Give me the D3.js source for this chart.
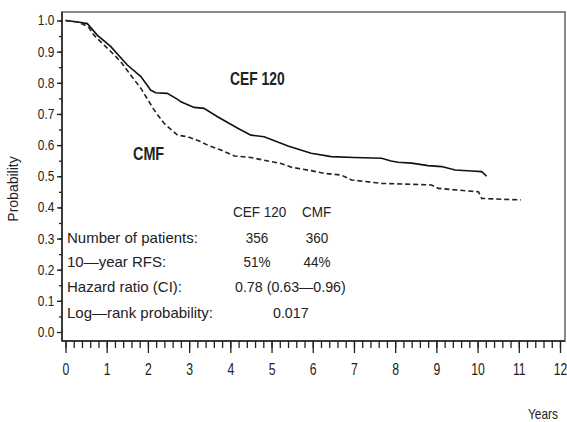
<!DOCTYPE html>
<html>
<head>
<meta charset="utf-8">
<script src="https://cdn.jsdelivr.net/npm/d3@7"></script>
<style>
  body { margin: 0; background: #fff; }
  text { fill: #222; }
</style>
</head>
<body>
<div id="chart"></div>
<script>
// Kaplan-Meier estimates
const cefYears = [0, 0.3, 0.53, 0.77, 1.1, 1.5, 1.83, 2.07, 2.19, 2.47, 2.72, 2.8, 3.12, 3.36, 3.69, 4.18, 4.5, 4.82, 5.4, 5.96, 6.45, 7.0, 7.67, 7.9, 8.07, 8.4, 8.8, 9.13, 9.45, 9.86, 10.1, 10.22];
const cefProb = [1.0, 0.995, 0.99, 0.953, 0.916, 0.857, 0.82, 0.776, 0.768, 0.766, 0.747, 0.739, 0.721, 0.718, 0.691, 0.654, 0.632, 0.627, 0.597, 0.574, 0.563, 0.56, 0.558, 0.549, 0.545, 0.542, 0.534, 0.531, 0.52, 0.517, 0.515, 0.50];

const cmfYears = [0, 0.3, 0.55, 0.69, 0.89, 1.14, 1.34, 1.58, 1.83, 2.03, 2.15, 2.39, 2.72, 2.96, 3.28, 3.45, 3.77, 4.1, 4.5, 4.91, 5.23, 5.48, 5.96, 6.29, 6.69, 6.94, 7.67, 8.88, 9.05, 10.02, 10.1, 10.42, 11.05];
const cmfProb = [1.0, 0.995, 0.98, 0.953, 0.927, 0.895, 0.868, 0.825, 0.782, 0.739, 0.713, 0.670, 0.632, 0.627, 0.611, 0.60, 0.584, 0.565, 0.56, 0.549, 0.541, 0.529, 0.518, 0.509, 0.504, 0.488, 0.477, 0.472, 0.461, 0.45, 0.429, 0.427, 0.424];

const xTicks = d3.range(0, 13);
const yTicks = d3.range(0, 11).map(i => i / 10);

const tableHeader = ["CEF 120", "CMF"];
const tableRows = [
  { label: "Number of patients:", cef: "356", cmf: "360" },
  { label: "10\u2014year RFS:", cef: "51%", cmf: "44%" },
  { label: "Hazard ratio (CI):", both: "0.78 (0.63\u20140.96)" },
  { label: "Log\u2014rank probability:", both: "0.017" }
];

const W = 567, H = 422;
const svg = d3.select("#chart")
  .append("svg")
  .attr("width", W)
  .attr("height", H);

const x = d3.scaleLinear().domain([0, 12]).range([65.5, 560]);
const y = d3.scaleLinear().domain([0, 1]).range([332, 20.5]);

const frame = { left: 62, right: 565, top: 12, bottom: 341 };
const font = "Arial, 'Liberation Sans', sans-serif";

// text squeezed horizontally, like the narrow font of the original
function narrowText(px, py, str, size, sx, anchor, bold) {
  const g = svg.append("g").attr("transform", `translate(${px},${py}) scale(${sx},1)`);
  g.append("text")
    .attr("text-anchor", anchor || "start")
    .style("font-family", font)
    .style("font-size", size + "px")
    .style("font-weight", bold ? "bold" : "normal")
    .text(str);
  return g;
}

// frame
svg.append("rect")
  .attr("x", frame.left)
  .attr("y", frame.top)
  .attr("width", frame.right - frame.left)
  .attr("height", frame.bottom - frame.top)
  .attr("fill", "none")
  .attr("stroke", "#888")
  .attr("stroke-width", 2);

// x axis, major and minor ticks
const xMinor = svg.append("g")
  .attr("transform", `translate(0,${frame.bottom})`)
  .call(d3.axisBottom(x).tickValues(d3.range(0, 60.5).map(i => i / 5)).tickSize(7).tickFormat(""));
xMinor.select(".domain").remove();

const xAxis = svg.append("g")
  .attr("transform", `translate(0,${frame.bottom})`)
  .call(d3.axisBottom(x).tickValues(xTicks).tickSize(12).tickPadding(10).tickFormat(d3.format("d")));
xAxis.select(".domain").remove();
xAxis.selectAll("text")
  .attr("transform", "scale(0.72,1)")
  .style("font-family", font)
  .style("font-size", "17px");

// y axis
const yMinor = svg.append("g")
  .attr("transform", `translate(${frame.left},0)`)
  .call(d3.axisLeft(y).tickValues(d3.range(0, 20).map(i => i / 20 + 0.05)).tickSize(3).tickFormat(""));
yMinor.select(".domain").remove();

const yAxis = svg.append("g")
  .attr("transform", `translate(${frame.left},0)`)
  .call(d3.axisLeft(y).tickValues(yTicks).tickSize(5).tickPadding(3).tickFormat(d3.format(".1f")));
yAxis.select(".domain").remove();
yAxis.selectAll("text")
  .attr("transform", "scale(0.85,1)")
  .attr("x", -9)
  .style("font-family", font)
  .style("font-size", "14px");

svg.selectAll(".tick line").attr("stroke", "#222").attr("stroke-width", 1.3);

// axis lines
svg.append("line")
  .attr("x1", frame.left).attr("x2", frame.right)
  .attr("y1", frame.bottom).attr("y2", frame.bottom)
  .attr("stroke", "#222").attr("stroke-width", 1.5);
svg.append("line")
  .attr("x1", frame.left).attr("x2", frame.left)
  .attr("y1", frame.top).attr("y2", frame.bottom)
  .attr("stroke", "#222").attr("stroke-width", 1.5);

// axis titles
svg.append("text")
  .attr("transform", "translate(18,189) rotate(-90)")
  .attr("text-anchor", "middle")
  .style("font-family", font)
  .style("font-size", "14px")
  .text("Probability");

narrowText(543, 419, "Years", 14, 0.85, "middle");

// curves
const line = d3.line()
  .x(d => x(d[0]))
  .y(d => y(d[1]));

svg.append("path")
  .datum(cefYears.map((t, i) => [t, cefProb[i]]))
  .attr("fill", "none")
  .attr("stroke", "#111")
  .attr("stroke-width", 1.6)
  .attr("d", line);

svg.append("path")
  .datum(cmfYears.map((t, i) => [t, cmfProb[i]]))
  .attr("fill", "none")
  .attr("stroke", "#222")
  .attr("stroke-width", 1.6)
  .attr("stroke-dasharray", "5,3")
  .attr("d", line);

// curve labels
narrowText(230, 85, "CEF 120", 18, 0.77, "start", true);
narrowText(133, 160, "CMF", 18, 0.8, "start", true);

// summary table
const rowY = [243, 267, 292, 318];

narrowText(233, 217, tableHeader[0], 15, 0.9);
narrowText(302, 217, tableHeader[1], 15, 0.9);

tableRows.forEach((r, i) => {
  narrowText(67, rowY[i], r.label, 15, 1);
  if (r.both) {
    narrowText(i === 2 ? 235 : 273, rowY[i], r.both, 15, 0.95);
  } else {
    narrowText(257, rowY[i], r.cef, 15, 0.9, "middle");
    narrowText(317, rowY[i], r.cmf, 15, 0.9, "middle");
  }
});
</script>
</body>
</html>
